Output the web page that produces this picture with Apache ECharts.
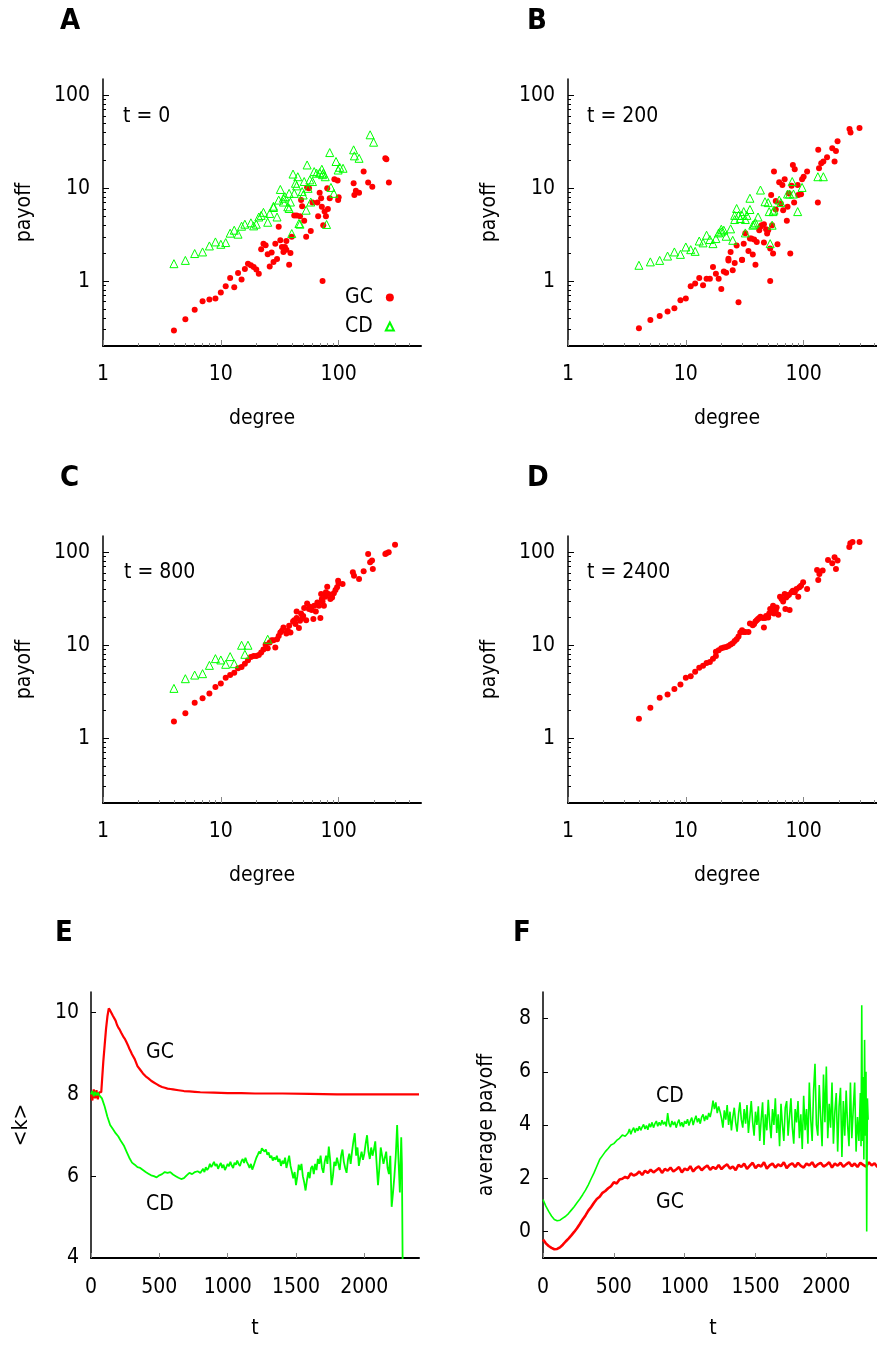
<!DOCTYPE html>
<html><head><meta charset="utf-8">
<script src="https://cdn.jsdelivr.net/npm/echarts@6/dist/echarts.min.js"></script>
<style>html,body{margin:0;padding:0;background:#fff}#c{width:877px;height:1346px}</style>
</head><body><div id="c"></div>
<script>
const FONT = "'DejaVu Sans Condensed','Liberation Sans Narrow','DejaVu Sans',sans-serif";
const RED = '#ff0000', GREEN = '#00ff00';

// ---- Panel A (t = 0): [degree, payoff]
const A_GC = [[4,0.293],[5,0.388],[6,0.49],[7,0.608],[8,0.634],[9,0.65],[10,0.755],[11,0.88],[12,1.08],[13,0.86],[14,1.22],[15,1.04],[16,1.35],[17,1.54],[18,1.48],[19,1.42],[20,1.33],[21,1.2],[22,2.2],[23,2.53],[24,2.43],[25,1.94],[26,1.44],[27,2.03],[28,1.61],[29,2.53],[30,1.73],[31,3.84],[32,2.75],[33,2.33],[34,2.06],[35,2.33],[36,2.7],[36,2.18],[38,1.5],[39,2.01],[40,3.0],[42,5.1],[44,5.1],[47,5.0],[48,7.45],[49,6.4],[51,4.46],[53,3.0],[54,10.2],[56,9.97],[58,3.47],[60,7.0],[66,7.0],[67,5.0],[69,8.95],[71,7.8],[72,6.3],[73,1.0],[74,4.0],[76,5.6],[78,5.0],[80,9.97],[81,5.96],[84,7.8],[92,12.5],[98,12.1],[99,7.45],[100,8.0],[134,11.3],[136,8.45],[140,9.4],[149,8.95],[163,15.1],[178,11.5],[193,10.4],[249,21.0],[254,20.5],[267,11.5]];
const A_CD = [[4,1.54],[5,1.67],[6,1.98],[7,2.06],[8,2.39],[9,2.64],[10,2.49],[11,2.6],[12,3.28],[13,3.53],[14,3.2],[15,3.9],[16,4.1],[18,4.24],[19,3.93],[20,4.1],[21,4.9],[22,5.1],[23,5.5],[25,4.3],[26,5.35],[28,6.2],[28,6.4],[30,4.9],[31,7.45],[32,9.7],[34,7.1],[34,7.8],[35,8.1],[37,6.3],[38,6.05],[38,8.8],[39,7.1],[40,3.25],[41,14.2],[42,8.8],[43,11.3],[44,10.6],[45,13.3],[46,4.17],[47,4.1],[49,9.2],[50,8.45],[51,11.8],[53,5.8],[54,17.8],[55,9.97],[57,12.3],[58,7.1],[60,11.8],[62,15.1],[65,14.5],[69,14.7],[72,16.0],[73,14.0],[74,14.5],[77,13.3],[79,4.07],[84,24.2],[86,10.2],[91,8.8],[95,19.4],[99,15.7],[102,16.8],[109,16.4],[134,25.9],[136,22.3],[149,21.0],[185,37.6],[198,31.3]];

// ---- Panel B (t = 200)
const B_GC = [[4,0.31],[5,0.38],[6,0.42],[7,0.47],[8,0.51],[9,0.62],[10,0.65],[11,0.88],[12,0.94],[13,1.08],[14,0.9],[15,1.06],[16,1.06],[17,1.42],[18,1.2],[19,1.06],[20,0.82],[21,1.27],[22,1.23],[23,1.74],[23,1.67],[24,2.06],[25,1.31],[26,1.57],[27,2.41],[28,0.59],[30,1.69],[30,1.7],[31,2.53],[32,3.27],[34,2.11],[35,2.87],[36,2.87],[37,1.93],[38,2.8],[39,1.5],[40,2.64],[42,3.53],[43,3.84],[44,4.0],[46,2.6],[46,4.1],[48,3.62],[49,3.25],[50,3.53],[52,2.24],[52,1.0],[53,8.45],[54,4.0],[55,1.98],[56,15.1],[58,7.3],[58,5.9],[60,2.49],[62,11.6],[64,6.85],[66,10.8],[67,5.8],[69,12.5],[72,4.46],[73,6.3],[75,8.8],[77,1.98],[79,10.6],[81,17.8],[83,7.0],[84,16.0],[89,10.8],[90,8.45],[95,8.6],[97,12.5],[100,13.3],[107,15.1],[132,7.0],[133,25.9],[135,16.4],[141,18.6],[147,19.4],[158,21.6],[175,27.0],[183,19.4],[188,25.2],[194,32.1],[245,43.3],[250,39.8],[298,44.4]];
const B_CD = [[4,1.48],[5,1.61],[6,1.67],[7,1.86],[8,2.06],[9,1.94],[10,2.33],[11,2.18],[12,2.09],[13,2.7],[14,2.58],[15,3.12],[16,2.8],[17,2.53],[18,2.87],[19,3.3],[20,3.39],[20,3.62],[21,3.53],[22,3.04],[24,3.65],[25,2.75],[26,5.1],[26,4.6],[27,6.05],[28,5.1],[29,4.72],[30,5.1],[31,5.6],[32,4.6],[32,3.3],[33,5.1],[35,7.8],[35,5.9],[37,4.0],[38,4.1],[39,4.24],[41,4.9],[43,9.56],[47,7.15],[50,7.0],[51,5.6],[52,2.53],[54,4.0],[55,5.6],[56,5.8],[62,7.45],[64,7.0],[73,8.66],[76,8.66],[80,11.8],[82,8.66],[89,5.6],[97,10.2],[132,13.3],[147,13.3]];

// ---- Panel C (t = 800)
const C_GC = [[4,1.51],[5,1.85],[6,2.4],[7,2.69],[8,3.02],[9,3.54],[10,3.88],[11,4.47],[12,4.77],[13,5.06],[14,5.64],[15,5.83],[16,6.33],[17,6.88],[18,7.47],[19,7.66],[20,7.66],[21,7.86],[22,8.33],[23,8.97],[24,10.1],[25,9.27],[26,10.7],[27,11.3],[28,11.3],[29,9.43],[30,11.6],[31,12.6],[32,13.7],[33,14.3],[34,15.5],[36,13.4],[37,14.3],[38,16.2],[39,13.7],[41,18.0],[42,18.6],[43,16.9],[44,19.6],[44,23.1],[46,15.3],[47,18.3],[48,22.0],[49,19.6],[50,20.7],[51,25.1],[53,18.6],[54,28.2],[56,24.5],[57,25.9],[59,23.9],[61,19.1],[62,26.6],[64,23.1],[66,28.9],[68,26.6],[70,19.6],[71,35.6],[72,31.4],[73,29.6],[75,26.6],[77,33.3],[78,37.1],[80,42.7],[82,35.6],[85,31.4],[88,32.7],[91,36.2],[94,39.3],[97,42.0],[99,49.6],[100,46.4],[108,45.6],[132,61.0],[135,56.1],[149,51.6],[163,62.5],[178,96.2],[185,78.2],[192,81.5],[195,66.3],[249,96.2],[254,97.9],[266,100],[301,121]];
const C_CD = [[4,3.43],[5,4.36],[6,4.77],[7,4.94],[8,6.07],[9,7.17],[10,6.94],[11,6.23],[12,7.54],[13,6.33],[15,10.0],[16,7.98],[17,10.0],[25,11.6]];

// ---- Panel D (t = 2400)
const D_GC = [[4,1.62],[5,2.12],[6,2.72],[7,2.95],[8,3.37],[9,3.78],[10,4.47],[11,4.62],[12,5.19],[13,5.73],[14,6.02],[15,6.44],[16,6.6],[17,7.17],[18,7.66],[18,8.53],[19,8.82],[20,9.27],[21,9.43],[22,9.58],[23,9.83],[24,10.2],[25,10.5],[26,11.1],[27,11.6],[28,12.4],[29,13.7],[30,14.5],[31,13.9],[32,13.9],[34,13.9],[35,17.1],[37,16.4],[38,16.9],[39,18.0],[40,18.6],[41,19.1],[42,19.6],[43,20.2],[45,19.6],[46,15.5],[47,19.6],[48,20.7],[50,19.9],[51,22.0],[52,24.5],[54,23.9],[55,26.6],[56,22.0],[58,23.5],[59,25.5],[61,21.3],[63,33.3],[65,31.4],[67,29.6],[69,35.6],[70,24.5],[71,32.7],[73,34.1],[75,35.0],[76,23.9],[79,37.1],[81,38.6],[84,37.1],[87,40.3],[90,33.3],[92,42.0],[95,43.8],[99,47.6],[107,40.3],[130,64.6],[133,50.4],[136,58.5],[145,63.6],[161,82.9],[175,76.3],[183,88.5],[188,66.3],[194,81.5],[244,114],[249,125],[260,129],[298,129]];

// ---- Panel E: [t, <k>]
const E_GC = [[0,8.0],[10,7.85],[20,8.12],[30,7.9],[40,8.1],[50,7.88],[60,8.05],[75,8.05],[80,8.3],[90,8.8],[100,9.2],[110,9.6],[120,9.9],[130,10.1],[140,10.05],[150,10.02],[160,9.92],[170,9.88],[180,9.8],[190,9.7],[200,9.63],[210,9.58],[220,9.51],[230,9.47],[240,9.39],[250,9.34],[260,9.27],[270,9.2],[280,9.12],[290,9.05],[300,8.98],[320,8.86],[340,8.69],[360,8.6],[380,8.51],[400,8.44],[420,8.39],[440,8.33],[460,8.29],[480,8.25],[500,8.21],[520,8.18],[540,8.16],[560,8.14],[580,8.13],[600,8.12],[640,8.1],[680,8.08],[720,8.07],[760,8.06],[800,8.05],[900,8.04],[1000,8.03],[1100,8.03],[1200,8.02],[1400,8.02],[1600,8.01],[1800,8.0],[2000,8.0],[2200,8.0],[2400,8.0]];
const E_CD = [[0,8.0],[10,8.08],[20,7.95],[30,8.06],[40,7.97],[50,8.04],[60,7.98],[80,7.9],[100,7.7],[120,7.45],[140,7.25],[160,7.15],[180,7.05],[200,6.97],[220,6.85],[240,6.75],[260,6.6],[280,6.45],[300,6.33],[320,6.28],[340,6.22],[360,6.2],[380,6.15],[400,6.1],[420,6.06],[440,6.02],[460,6.0],[480,5.97],[500,6.02],[520,6.05],[540,6.1],[560,6.08],[580,6.1],[600,6.04],[620,6.0],[640,5.96],[660,5.93],[680,5.95],[700,6.02],[720,6.08],[740,6.05],[760,6.1],[780,6.12],
[800,6.08],[810,6.12],[820,6.18],[830,6.1],[840,6.22],[850,6.15],[860,6.2],[870,6.3],[880,6.22],[890,6.28],[900,6.35],[910,6.25],[920,6.3],[930,6.18],[940,6.26],[950,6.32],[960,6.2],[970,6.28],[980,6.15],[990,6.22],[1000,6.3],[1010,6.24],[1020,6.35],[1030,6.26],[1040,6.2],[1050,6.33],[1060,6.28],[1070,6.38],[1080,6.3],[1090,6.25],[1100,6.36],[1110,6.42],[1120,6.32],[1130,6.45],[1140,6.35],[1150,6.28],[1160,6.2],[1170,6.3],[1180,6.16],[1190,6.25],[1200,6.35],[1210,6.45],[1220,6.52],[1230,6.6],[1240,6.55],[1250,6.68],[1260,6.72],[1270,6.6],[1280,6.65],[1290,6.52],[1300,6.58],[1310,6.45],[1320,6.5],[1330,6.38],[1340,6.46],[1350,6.4],[1360,6.5],[1370,6.35],[1380,6.42],[1390,6.25],[1400,6.38],[1410,6.3],[1420,6.45],[1430,6.2],[1440,6.35],[1450,6.5],[1460,6.25],[1470,6.1],[1480,5.95],[1490,6.1],[1500,5.78],[1510,6.0],[1520,6.28],[1530,6.15],[1540,6.3],[1550,6.0],[1560,5.85],[1570,5.65],[1580,5.9],[1590,6.1],[1600,5.95],[1610,6.2],[1620,6.25],[1630,6.05],[1640,6.3],[1650,6.15],[1660,6.42],[1670,6.3],[1680,6.5],[1690,6.2],[1700,6.08],[1710,6.35],[1720,6.5],[1730,6.3],[1740,6.72],[1750,6.4],[1760,5.78],[1770,6.0],[1780,6.35],[1790,6.25],[1800,6.45],[1810,6.3],[1820,6.15],[1830,6.5],[1840,6.65],[1850,6.35],[1860,6.2],[1870,6.08],[1880,6.4],[1890,6.55],[1900,6.3],[1910,6.6],[1920,6.85],[1930,7.05],[1940,6.5],[1950,6.7],[1960,6.25],[1970,6.45],[1980,6.6],[1990,6.4],[2000,6.55],[2010,6.8],[2020,7.0],[2030,6.6],[2040,6.42],[2050,6.7],[2060,6.5],[2070,6.65],[2080,6.85],[2090,6.3],[2100,5.78],[2110,6.2],[2120,6.7],[2130,6.5],[2140,6.3],[2150,6.45],[2160,6.6],[2170,6.2],[2180,6.05],[2190,6.5],[2200,5.25],[2210,5.6],[2220,6.0],[2230,6.5],[2240,7.25],[2250,6.4],[2260,5.6],[2270,6.95],[2275,6.3],[2282,3.0]];

// ---- Panel F: [t, average payoff]
const F_GC = [[0,-0.3],[20,-0.45],[40,-0.55],[60,-0.62],[80,-0.67],[100,-0.66],[120,-0.6],[140,-0.5],[160,-0.38],[180,-0.27],[200,-0.15],[220,-0.02],[240,0.12],[260,0.28],[280,0.45],[300,0.6],[320,0.78],[340,0.92],[360,1.08],[380,1.22],[400,1.3],[420,1.45],[440,1.52],[460,1.62],[480,1.7],[500,1.85],[520,1.8],[540,1.95],[560,1.98],[580,2.05],[600,2.0],[620,2.18],[640,2.1],[660,2.15],[680,2.25],[700,2.12],[720,2.28],[740,2.2],[760,2.32],[780,2.22],[800,2.3],[820,2.38],[840,2.2],[860,2.35],[880,2.28],[900,2.4],[920,2.25],[940,2.33],[960,2.42],[980,2.22],[1000,2.36],[1020,2.3],[1040,2.45],[1060,2.25],[1080,2.38],[1100,2.44],[1120,2.3],[1140,2.4],[1160,2.48],[1180,2.32],[1200,2.42],[1220,2.35],[1240,2.5],[1260,2.34],[1280,2.45],[1300,2.52],[1320,2.36],[1340,2.44],[1360,2.3],[1380,2.5],[1400,2.42],[1420,2.55],[1440,2.35],[1460,2.47],[1480,2.58],[1500,2.38],[1520,2.5],[1540,2.44],[1560,2.6],[1580,2.36],[1600,2.48],[1620,2.55],[1640,2.4],[1660,2.52],[1680,2.45],[1700,2.6],[1720,2.38],[1740,2.5],[1760,2.56],[1780,2.42],[1800,2.58],[1820,2.46],[1840,2.4],[1860,2.55],[1880,2.48],[1900,2.6],[1920,2.42],[1940,2.52],[1960,2.58],[1980,2.44],[2000,2.5],[2020,2.6],[2040,2.4],[2060,2.55],[2080,2.47],[2100,2.58],[2120,2.43],[2140,2.52],[2160,2.6],[2180,2.45],[2200,2.55],[2220,2.42],[2240,2.58],[2260,2.5],[2280,2.44],[2300,2.6],[2320,2.48],[2340,2.56],[2360,2.42],[2380,2.55],[2400,2.5]];
const F_CD = [[0,1.2],[20,0.95],[40,0.75],[60,0.58],[80,0.45],[100,0.4],[120,0.42],[140,0.5],[160,0.57],[180,0.67],[200,0.8],[220,0.93],[240,1.08],[260,1.22],[280,1.38],[300,1.55],[320,1.75],[340,1.98],[360,2.2],[380,2.45],[400,2.7],[420,2.85],[440,3.0],[460,3.12],[480,3.25],[500,3.3],[520,3.42],[540,3.5],[560,3.62],[580,3.58],
[600,3.7],[610,3.85],[620,3.65],[630,3.8],[640,3.9],[650,3.72],[660,3.88],[670,3.78],[680,3.95],[690,3.8],[700,3.92],[710,4.02],[720,3.85],[730,3.98],[740,3.82],[750,4.05],[760,3.92],[770,4.1],[780,3.9],[790,4.05],[800,4.15],[810,3.95],[820,4.1],[830,3.98],[840,4.18],[850,4.02],[860,4.12],[870,3.95],[880,4.45],[890,4.05],[900,3.92],[910,4.15],[920,4.0],[930,4.12],[940,3.9],[950,4.08],[960,4.2],[970,3.95],[980,4.1],[990,3.92],[1000,4.15],[1010,4.05],[1020,4.22],[1030,3.98],[1040,4.15],[1050,4.28],[1060,4.0],[1070,4.2],[1080,4.35],[1090,4.1],[1100,4.25],[1110,4.05],[1120,4.3],[1130,4.4],[1140,4.15],[1150,4.35],[1160,4.2],[1170,4.45],[1180,4.3],[1190,4.55],[1200,4.92],[1210,4.6],[1220,4.85],[1230,4.45],[1240,4.7],[1250,4.5],[1260,4.25],[1270,3.9],[1280,4.55],[1290,4.2],[1300,4.75],[1310,4.0],[1320,4.5],[1330,3.8],[1340,4.3],[1350,4.65],[1360,4.1],[1370,3.75],[1380,4.4],[1390,4.85],[1400,4.2],[1410,3.9],[1420,4.6],[1430,4.05],[1440,4.75],[1450,3.7],[1460,4.3],[1470,4.9],[1480,4.1],[1490,3.6],[1500,4.5],[1510,4.0],[1520,4.7],[1530,3.4],[1540,4.2],[1550,4.85],[1560,3.25],[1570,4.4],[1580,3.8],[1590,4.95],[1600,4.1],[1610,3.5],[1620,4.6],[1630,4.0],[1640,5.0],[1650,3.7],[1660,4.4],[1670,3.2],[1680,4.8],[1690,4.0],[1700,3.4],[1710,4.65],[1720,4.9],[1730,3.6],[1740,4.3],[1750,5.0],[1760,3.9],[1770,3.3],[1780,4.6],[1790,4.1],[1800,4.9],[1810,3.5],[1820,4.4],[1830,3.1],[1840,5.1],[1850,3.8],[1860,4.6],[1870,3.3],[1880,5.6],[1890,4.2],[1900,3.4],[1910,5.3],[1920,6.3],[1930,4.0],[1940,3.6],[1950,5.5],[1960,4.3],[1970,3.2],[1980,5.9],[1990,4.1],[2000,6.2],[2010,3.5],[2020,4.8],[2030,3.9],[2040,5.6],[2050,3.3],[2060,4.5],[2070,5.2],[2080,3.0],[2090,4.7],[2100,5.4],[2110,2.8],[2120,4.9],[2130,3.6],[2140,5.3],[2150,4.0],[2160,3.2],[2170,5.6],[2180,3.5],[2190,4.6],[2200,5.6],[2210,3.0],[2220,4.3],[2230,3.4],[2240,5.2],[2245,3.2],[2250,8.5],[2255,3.4],[2260,5.8],[2265,2.7],[2270,7.2],[2275,3.6],[2280,6.0],[2285,0.0],[2290,5.0],[2295,4.2]];

// ---- tick values
const degreeTicks = [1, 10, 100];
const degreeMinor = [2,3,4,5,6,7,8,9,20,30,40,50,60,70,80,90,200,300,400];
const payoffTicks = [1, 10, 100];
const payoffMinor = [0.3,0.4,0.5,0.6,0.7,0.8,0.9,2,3,4,5,6,7,8,9,20,30,40,50,60,70,80,90];
const tTicks = [0, 500, 1000, 1500, 2000];
const kTicks = [4, 6, 8, 10];
const avgTicks = [0, 2, 4, 6, 8];

const FS = 21;
const txt = {fontFamily: FONT, fontSize: FS, color: '#000'};
const plain = v => String(v);

const grids = [
  {left: 103, top: 79, width: 318, height: 267},
  {left: 568, top: 79, width: 318, height: 267},
  {left: 103, top: 536, width: 318, height: 267},
  {left: 568, top: 536, width: 318, height: 267},
  {left: 91, top: 992, width: 328, height: 266},
  {left: 543, top: 992, width: 340, height: 266}
].map(g => Object.assign({containLabel: false, outerBoundsMode: 'none'}, g));

const xAxes = [], yAxes = [];
for (let g = 0; g < 4; g++) {
  xAxes.push({type: 'log', logBase: 10, gridIndex: g, min: 1, max: 500, position: 'bottom',
    name: 'degree', nameLocation: 'middle', nameGap: 62, nameTextStyle: txt,
    axisLine: {show: true, onZero: false, lineStyle: {color: '#000', width: 2}},
    axisTick: {show: true, inside: true, length: 6, customValues: degreeTicks, lineStyle: {color: '#888', width: 1}},
    axisLabel: Object.assign({show: true, customValues: degreeTicks, margin: 18, formatter: plain}, txt),
    splitLine: {show: false}});
  xAxes.push({type: 'log', logBase: 10, gridIndex: g, min: 1, max: 500, position: 'bottom',
    axisLine: {show: false, onZero: false},
    axisTick: {show: true, inside: true, length: 3, customValues: degreeMinor, lineStyle: {color: '#888', width: 1}},
    axisLabel: {show: false}, splitLine: {show: false}});
  yAxes.push({type: 'log', logBase: 10, gridIndex: g, min: 0.2, max: 150, position: 'left',
    name: 'payoff', nameLocation: 'middle', nameGap: 68, nameTextStyle: txt,
    axisLine: {show: true, onZero: false, lineStyle: {color: '#000', width: 1.5}},
    axisTick: {show: true, inside: true, length: 6, customValues: payoffTicks, lineStyle: {color: '#000', width: 1}},
    axisLabel: Object.assign({show: true, customValues: payoffTicks, margin: 13, formatter: plain}, txt),
    splitLine: {show: false}});
  yAxes.push({type: 'log', logBase: 10, gridIndex: g, min: 0.2, max: 150, position: 'left',
    axisLine: {show: false, onZero: false},
    axisTick: {show: true, inside: true, length: 3, customValues: payoffMinor, lineStyle: {color: '#000', width: 1}},
    axisLabel: {show: false}, splitLine: {show: false}});
}
function tAxis(g) {
  return {type: 'value', gridIndex: g, min: 0, max: 2400, position: 'bottom',
    name: 't', nameLocation: 'middle', nameGap: 60, nameTextStyle: txt,
    axisLine: {show: true, onZero: false, lineStyle: {color: '#000', width: 2}},
    axisTick: {show: true, inside: true, length: 5, customValues: tTicks, lineStyle: {color: '#888'}},
    axisLabel: Object.assign({show: true, customValues: tTicks, margin: 19, formatter: plain}, txt),
    splitLine: {show: false}};
}
xAxes.push(tAxis(4));
yAxes.push({type: 'value', gridIndex: 4, min: 4, max: 10.5, position: 'left',
  name: '<k>', nameLocation: 'middle', nameGap: 59, nameTextStyle: txt,
  axisLine: {show: true, onZero: false, lineStyle: {color: '#000', width: 1.5}},
  axisTick: {show: true, inside: true, length: 5, customValues: kTicks, lineStyle: {color: '#000'}},
  axisLabel: Object.assign({show: true, customValues: kTicks, margin: 12, formatter: plain}, txt),
  splitLine: {show: false}});
xAxes.push(tAxis(5));
yAxes.push({type: 'value', gridIndex: 5, min: -1, max: 9, position: 'left',
  name: 'average payoff', nameLocation: 'middle', nameGap: 46, nameTextStyle: txt,
  axisLine: {show: true, onZero: false, lineStyle: {color: '#000', width: 1.5}},
  axisTick: {show: true, inside: true, length: 5, customValues: avgTicks, lineStyle: {color: '#000'}},
  axisLabel: Object.assign({show: true, customValues: avgTicks, margin: 12, formatter: plain}, txt),
  splitLine: {show: false}});

function gcSeries(g, data) {
  return {name: 'GC', type: 'scatter', xAxisIndex: 2 * g, yAxisIndex: 2 * g, data: data,
    symbol: 'circle', symbolSize: 6, itemStyle: {color: RED, opacity: 1}, z: 2};
}
function cdSeries(g, data) {
  return {name: 'CD', type: 'scatter', xAxisIndex: 2 * g, yAxisIndex: 2 * g, data: data,
    symbol: 'triangle', symbolSize: 8, itemStyle: {color: 'rgba(0,0,0,0)', borderColor: GREEN, borderWidth: 1, opacity: 1}, z: 3};
}
function lineSeries(name, xi, data, color, w) {
  return {name: name, type: 'line', xAxisIndex: xi, yAxisIndex: xi, data: data, showSymbol: false,
    symbol: 'none', clip: true, lineStyle: {color: color, width: w}, itemStyle: {color: color}};
}

const series = [
  gcSeries(0, A_GC), cdSeries(0, A_CD),
  gcSeries(1, B_GC), cdSeries(1, B_CD),
  gcSeries(2, C_GC), cdSeries(2, C_CD),
  gcSeries(3, D_GC),
  lineSeries('GC <k>', 8, E_GC, RED, 2.2), lineSeries('CD <k>', 8, E_CD, GREEN, 1.8),
  lineSeries('GC payoff', 9, F_GC, RED, 2.6), lineSeries('CD payoff', 9, F_CD, GREEN, 1.6)
];

const letter = (t, l, tp) => ({text: t, left: l, top: tp, padding: 0,
  textStyle: {fontFamily: FONT, fontSize: 29, fontWeight: 'bold', color: '#000'}});
const label = (t, l, tp) => ({text: t, left: l, top: tp, padding: 0, textStyle: Object.assign({fontWeight: 'normal'}, txt)});

const option = {
  animation: false,
  backgroundColor: '#fff',
  grid: grids,
  xAxis: xAxes,
  yAxis: yAxes,
  title: [
    letter('A', 60, 7), letter('B', 527, 7), letter('C', 60, 464), letter('D', 527, 464),
    letter('E', 55, 919), letter('F', 513, 919),
    label('t = 0', 123, 106), label('t = 200', 587, 106), label('t = 800', 124, 562), label('t = 2400', 587, 562),
    label('GC', 146, 1042), label('CD', 146, 1194), label('CD', 656, 1086), label('GC', 656, 1192)
  ],
  legend: {data: ['GC', 'CD'], orient: 'vertical', align: 'right', left: 345, top: 287,
    itemWidth: 8, itemHeight: 8, itemGap: 8, padding: 0, selectedMode: false,
    textStyle: Object.assign({padding: [0, 8, 0, 0]}, txt)},
  series: series
};
const chart = echarts.init(document.getElementById('c'), null, {renderer: 'canvas'});
chart.setOption(option);
</script></body></html>
